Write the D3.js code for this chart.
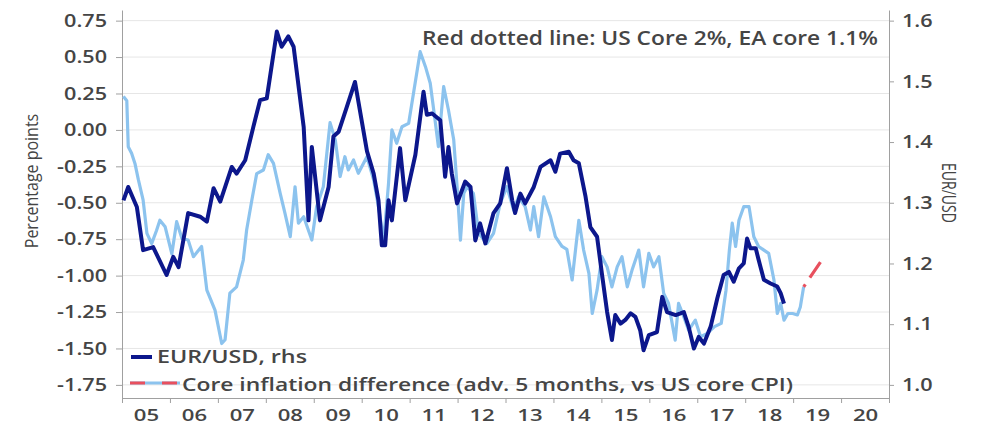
<!DOCTYPE html>
<html><head><meta charset="utf-8">
<script src="https://cdn.jsdelivr.net/npm/d3@7"></script>
<style>
html,body{margin:0;padding:0;background:#fff;}
svg{display:block;font-family:"Open Sans",sans-serif;}
</style></head>
<body><svg id="c" width="982" height="425"></svg>
<script>
// ---- data ----
const eurDates = [2005.03,2005.13,2005.31,2005.44,2005.65,2005.93,2006.07,2006.18,2006.38,2006.63,2006.77,2006.91,2007.05,2007.29,2007.39,2007.57,2007.74,2007.88,2008.02,2008.23,2008.33,2008.47,2008.58,2008.79,2008.89,2008.96,2009.13,2009.31,2009.41,2009.52,2009.69,2009.86,2010.11,2010.25,2010.35,2010.42,2010.49,2010.56,2010.63,2010.80,2010.91,2011.12,2011.29,2011.36,2011.47,2011.64,2011.74,2011.81,2011.88,2011.99,2012.16,2012.27,2012.37,2012.47,2012.58,2012.75,2012.89,2013.03,2013.14,2013.20,2013.31,2013.41,2013.59,2013.73,2013.94,2014.04,2014.14,2014.32,2014.42,2014.53,2014.67,2014.77,2014.91,2015.01,2015.12,2015.22,2015.29,2015.40,2015.50,2015.61,2015.71,2015.81,2015.88,2015.99,2016.16,2016.27,2016.37,2016.55,2016.72,2016.82,2016.93,2017.03,2017.14,2017.28,2017.42,2017.55,2017.66,2017.76,2017.87,2017.97,2018.04,2018.11,2018.22,2018.28,2018.39,2018.53,2018.67,2018.74,2018.81];
const eurValues = [1.304,1.326,1.293,1.222,1.227,1.181,1.211,1.194,1.283,1.277,1.269,1.324,1.302,1.359,1.348,1.370,1.425,1.469,1.472,1.582,1.557,1.574,1.557,1.425,1.271,1.392,1.271,1.326,1.409,1.417,1.458,1.499,1.385,1.348,1.304,1.230,1.230,1.304,1.271,1.390,1.304,1.379,1.483,1.445,1.447,1.436,1.343,1.392,1.348,1.299,1.335,1.326,1.238,1.266,1.233,1.283,1.299,1.357,1.304,1.283,1.315,1.299,1.326,1.359,1.370,1.351,1.381,1.384,1.370,1.365,1.310,1.260,1.244,1.184,1.120,1.074,1.115,1.101,1.107,1.118,1.112,1.090,1.057,1.082,1.087,1.145,1.120,1.115,1.120,1.096,1.060,1.079,1.068,1.096,1.143,1.181,1.186,1.170,1.192,1.200,1.241,1.225,1.225,1.206,1.173,1.167,1.162,1.151,1.134];

const coreDates = [2005.03,2005.10,2005.13,2005.20,2005.27,2005.34,2005.44,2005.52,2005.62,2005.72,2005.79,2005.90,2006.04,2006.14,2006.25,2006.38,2006.49,2006.66,2006.77,2006.94,2007.08,2007.15,2007.25,2007.39,2007.53,2007.60,2007.71,2007.81,2007.95,2008.05,2008.16,2008.30,2008.40,2008.51,2008.61,2008.68,2008.79,2008.96,2009.06,2009.20,2009.34,2009.45,2009.55,2009.65,2009.72,2009.83,2009.93,2010.11,2010.25,2010.35,2010.46,2010.56,2010.63,2010.73,2010.84,2010.98,2011.08,2011.22,2011.33,2011.43,2011.53,2011.60,2011.71,2011.81,2011.92,2011.99,2012.06,2012.13,2012.20,2012.33,2012.44,2012.61,2012.75,2012.89,2013.03,2013.17,2013.27,2013.41,2013.52,2013.59,2013.69,2013.80,2013.94,2014.04,2014.18,2014.28,2014.39,2014.53,2014.63,2014.74,2014.81,2014.91,2015.01,2015.12,2015.22,2015.33,2015.43,2015.54,2015.64,2015.78,2015.88,2015.99,2016.09,2016.20,2016.30,2016.40,2016.54,2016.61,2016.72,2016.82,2016.96,2017.07,2017.21,2017.36,2017.50,2017.60,2017.67,2017.73,2017.80,2017.87,2017.97,2018.08,2018.18,2018.28,2018.39,2018.49,2018.60,2018.67,2018.74,2018.81,2018.89,2018.99,2019.09,2019.15,2019.22];
const coreValues = [0.23,0.20,-0.115,-0.16,-0.23,-0.34,-0.48,-0.71,-0.78,-0.69,-0.62,-0.665,-0.85,-0.63,-0.745,-0.756,-0.87,-0.80,-1.10,-1.237,-1.466,-1.44,-1.12,-1.077,-0.893,-0.687,-0.48,-0.30,-0.275,-0.17,-0.23,-0.435,-0.573,-0.733,-0.39,-0.64,-0.596,-0.756,-0.527,-0.39,0.05,-0.07,-0.32,-0.184,-0.275,-0.206,-0.298,-0.184,-0.344,-0.527,-0.756,-0.367,0.0,-0.092,0.022,0.045,0.25,0.537,0.434,0.32,0.068,-0.115,0.297,0.137,-0.068,-0.39,-0.756,-0.435,-0.39,-0.435,-0.71,-0.78,-0.71,-0.504,-0.39,-0.55,-0.46,-0.527,-0.687,-0.527,-0.733,-0.46,-0.596,-0.733,-0.80,-0.82,-1.03,-0.62,-0.825,-0.985,-1.26,-1.10,-0.87,-0.94,-1.077,-0.94,-0.87,-1.077,-0.962,-0.825,-1.077,-0.847,-0.94,-0.87,-1.122,-1.19,-1.443,-1.19,-1.283,-1.374,-1.306,-1.42,-1.397,-1.35,-1.328,-1.10,-0.825,-0.64,-0.80,-0.62,-0.527,-0.527,-0.733,-0.80,-0.825,-0.847,-1.03,-1.26,-1.19,-1.306,-1.26,-1.26,-1.27,-1.215,-1.077];

const projDates = [2019.22,2019.57];
const projValues = [-1.077,-0.907];

const leftTicks = [0.75,0.5,0.25,0,-0.25,-0.5,-0.75,-1,-1.25,-1.5,-1.75];
const rightTicks = [1.6,1.5,1.4,1.3,1.2,1.1,1.0];
const yearTicks = d3.range(2005,2022);
const yearLabels = ["05","06","07","08","09","10","11","12","13","14","15","16","17","18","19","20"];

// ---- chart ----
const svg = d3.select("#c");
const pL=122,pR=889,pT=10,pB=398;
const x = d3.scaleLinear().domain([2005,2021]).range([pL,pR]);
const yL = d3.scaleLinear().domain([-1.84,0.823]).range([pB,pT]);
const yR = d3.scaleLinear().domain([1+(-1.84+1.75)*0.24, 1+(0.823+1.75)*0.24]).range([pB,pT]);

const txt="#454545", axc="#a0a0a0", fw=600;
function stretch(sel,s){
  sel.each(function(){
    const w=this.getComputedTextLength();
    d3.select(this).attr("textLength",w*s).attr("lengthAdjust","spacingAndGlyphs");
  });
}

// gridlines
svg.append("g").selectAll("line").data(leftTicks).join("line")
  .attr("x1",pL).attr("x2",pR)
  .attr("y1",d=>yL(d)).attr("y2",d=>yL(d))
  .attr("stroke","#e6e6e6").attr("stroke-width",1);

// left axis
const gL = svg.append("g").attr("transform",`translate(${pL},0)`)
  .call(d3.axisLeft(yL).tickValues(leftTicks).tickFormat(d=>d.toFixed(2)).tickSize(6).tickSizeOuter(0).tickPadding(9));
gL.selectAll("text").attr("font-size",18).attr("font-weight",fw).attr("fill",txt).attr("font-family","Open Sans");
gL.selectAll("line,path").attr("stroke",axc);
stretch(gL.selectAll("text"),1.2);

// right axis
const gR = svg.append("g").attr("transform",`translate(${pR},0)`)
  .call(d3.axisRight(yR).tickValues(rightTicks).tickFormat(d=>d.toFixed(1)).tickSize(5).tickSizeOuter(0).tickPadding(8));
gR.selectAll("text").attr("font-size",18).attr("font-weight",fw).attr("fill",txt).attr("font-family","Open Sans");
gR.selectAll("line,path").attr("stroke",axc);
stretch(gR.selectAll("text"),1.2);

// x axis
const gX = svg.append("g").attr("transform",`translate(0,${pB})`)
  .call(d3.axisBottom(x).tickValues(yearTicks).tickFormat("").tickSize(5).tickSizeOuter(0));
gX.selectAll("line,path").attr("stroke",axc);
const gX2 = svg.append("g").attr("transform",`translate(0,${pB})`)
  .call(d3.axisBottom(x).tickValues(yearLabels.map((_,i)=>2005.5+i)).tickFormat((d,i)=>yearLabels[i]).tickSize(0).tickPadding(11));
gX2.select("path").remove();
gX2.selectAll("text").attr("font-size",17).attr("font-weight",fw).attr("fill",txt).attr("font-family","Open Sans");
stretch(gX2.selectAll("text"),1.3);

// axis titles
svg.append("text").attr("transform","translate(37.5,181) scale(1.1,1) rotate(-90)").attr("text-anchor","middle")
  .attr("font-size",16).attr("fill",txt).attr("font-family","Open Sans").text("Percentage points");
svg.append("text").attr("transform","translate(942,193) scale(1.35,1) rotate(90)").attr("text-anchor","middle")
  .attr("font-size",15).attr("fill",txt).attr("font-family","Open Sans")
  .attr("textLength",60).attr("lengthAdjust","spacingAndGlyphs").text("EUR/USD");

// lines
const lineL = d3.line().x(d=>x(d[0])).y(d=>yL(d[1]));
const lineR = d3.line().x(d=>x(d[0])).y(d=>yR(d[1]));
svg.append("path").datum(coreDates.map((d,i)=>[d,coreValues[i]]))
  .attr("d",lineL).attr("fill","none").attr("stroke","#8cc3ee").attr("stroke-width",3.2).attr("stroke-linejoin","round");
svg.append("path").datum(projDates.map((d,i)=>[d,projValues[i]]))
  .attr("d",lineL).attr("fill","none").attr("stroke","#e8505e").attr("stroke-width",3.2).attr("stroke-dasharray","3,8,20");
svg.append("path").datum(eurDates.map((d,i)=>[d,eurValues[i]]))
  .attr("d",lineR).attr("fill","none").attr("stroke","#0c178c").attr("stroke-width",4).attr("stroke-linejoin","round");

// annotation
svg.append("text").attr("x",422).attr("y",45)
  .attr("font-size",19).attr("font-weight",fw).attr("fill",txt).attr("font-family","Open Sans")
  .attr("textLength",456).attr("lengthAdjust","spacingAndGlyphs")
  .text("Red dotted line: US Core 2%, EA core 1.1%");

// legend
const lg = svg.append("g");
lg.append("line").attr("x1",131).attr("x2",152).attr("y1",357).attr("y2",357).attr("stroke","#0c178c").attr("stroke-width",4);
lg.append("text").attr("x",157).attr("y",363).attr("font-size",18.5).attr("font-weight",fw).attr("fill",txt).attr("font-family","Open Sans")
  .attr("textLength",150).attr("lengthAdjust","spacingAndGlyphs").text("EUR/USD, rhs");
lg.append("line").attr("x1",130).attr("x2",180).attr("y1",383).attr("y2",383).attr("stroke","#8cc3ee").attr("stroke-width",3.2);
lg.append("line").attr("x1",130).attr("x2",178).attr("y1",383).attr("y2",383).attr("stroke","#e8505e").attr("stroke-width",3.2).attr("stroke-dasharray","15,17");
lg.append("text").attr("x",182).attr("y",391).attr("font-size",18.5).attr("font-weight",fw).attr("fill",txt).attr("font-family","Open Sans")
  .attr("textLength",611).attr("lengthAdjust","spacingAndGlyphs").text("Core inflation difference (adv. 5 months, vs US core CPI)");
</script></body></html>
